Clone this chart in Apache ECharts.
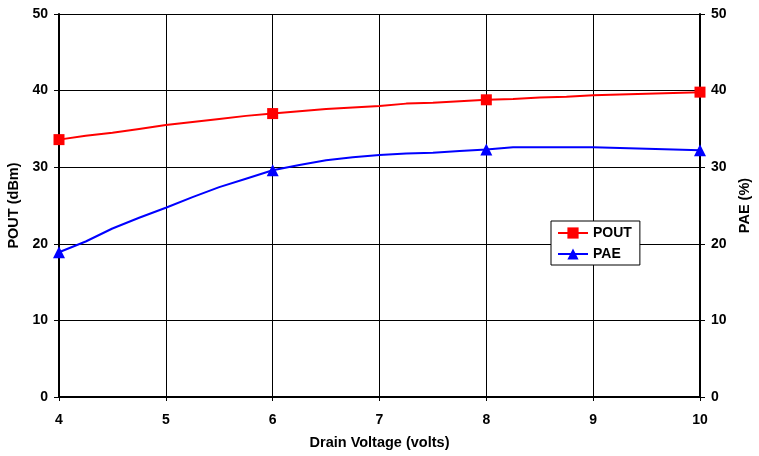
<!DOCTYPE html>
<html><head><meta charset="utf-8">
<script src="https://cdn.jsdelivr.net/npm/echarts@6/dist/echarts.min.js"></script>
<style>html,body{margin:0;padding:0;background:#fff}#c{width:759px;height:456px}</style>
</head><body><div id="c"></div>
<script>
var voltage = [4,4.25,4.5,4.75,5,5.25,5.5,5.75,6,6.25,6.5,6.75,7,7.25,7.5,7.75,8,8.25,8.5,8.75,9,9.25,9.5,9.75,10];
var pout = [33.6,34.1,34.5,35.0,35.5,35.9,36.3,36.7,37.0,37.3,37.6,37.8,38.0,38.3,38.4,38.6,38.8,38.9,39.1,39.2,39.4,39.5,39.6,39.7,39.8];
var pae = [18.9,20.3,22.0,23.4,24.7,26.1,27.4,28.5,29.6,30.3,30.9,31.3,31.6,31.8,31.9,32.1,32.3,32.6,32.6,32.6,32.6,32.5,32.4,32.3,32.2];
var markerVolts = [4,6,8,10];

function build(vals) {
  return voltage.map(function(v,i){
    var item = {value:[v, vals[i]]};
    if (markerVolts.indexOf(v) < 0) item.symbol = 'none';
    return item;
  });
}
var font = 'Arial, "Liberation Sans", sans-serif';
var chart = echarts.init(document.getElementById('c'));
chart.setOption({
  animation:false,
  grid:{left:59,right:59,top:14,bottom:59,outerBoundsMode:'none',containLabel:false},
  legend:{
    orient:'vertical', left:551, top:221, itemGap:7,
    backgroundColor:'#fff', borderColor:'#000', borderWidth:1, padding:[5,8,4,6],
    itemWidth:30, itemHeight:14,
    textStyle:{fontFamily:font,fontWeight:'bold',fontSize:14,color:'#000'},
    data:['POUT','PAE']
  },
  xAxis:{
    type:'value', min:4, max:10, interval:1,
    name:'Drain Voltage (volts)', nameLocation:'middle', nameGap:38,
    nameTextStyle:{fontFamily:font,fontWeight:'bold',fontSize:14.5,color:'#000'},
    axisLine:{show:true,lineStyle:{color:'#000',width:2}},
    axisTick:{show:true,length:4,lineStyle:{color:'#000'}},
    axisLabel:{fontFamily:font,fontWeight:'bold',fontSize:14,color:'#000',margin:16},
    splitLine:{show:true,lineStyle:{color:'#000',width:1}}
  },
  yAxis:[{
    type:'value', min:0, max:50, interval:10, position:'left',
    name:'POUT (dBm)', nameLocation:'middle', nameGap:31, nameRotate:90,
    nameTextStyle:{fontFamily:font,fontWeight:'bold',fontSize:14.5,color:'#000'},
    axisLine:{show:true,lineStyle:{color:'#000',width:2}},
    axisTick:{show:true,length:5,lineStyle:{color:'#000'}},
    axisLabel:{fontFamily:font,fontWeight:'bold',fontSize:14,color:'#000',margin:11},
    splitLine:{show:true,lineStyle:{color:'#000',width:1}}
  },{
    type:'value', min:0, max:50, interval:10, position:'right',
    name:'PAE (%)', nameLocation:'middle', nameGap:37, nameRotate:90,
    nameTextStyle:{fontFamily:font,fontWeight:'bold',fontSize:14.5,color:'#000'},
    axisLine:{show:true,lineStyle:{color:'#000',width:2}},
    axisTick:{show:true,length:5,lineStyle:{color:'#000'}},
    axisLabel:{fontFamily:font,fontWeight:'bold',fontSize:14,color:'#000',margin:11},
    splitLine:{show:false}
  }],
  series:[{
    name:'POUT', type:'line', yAxisIndex:0, data:build(pout),
    symbol:'rect', symbolSize:11, smooth:false,
    lineStyle:{color:'#ff0000',width:2}, itemStyle:{color:'#ff0000'}
  },{
    name:'PAE', type:'line', yAxisIndex:1, data:build(pae),
    symbol:'triangle', symbolSize:12, smooth:false,
    lineStyle:{color:'#0000ff',width:2}, itemStyle:{color:'#0000ff'}
  }]
});
</script></body></html>
